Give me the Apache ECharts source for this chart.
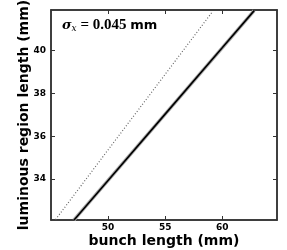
<!DOCTYPE html>
<html><head><meta charset="utf-8">
<script src="https://cdn.jsdelivr.net/npm/echarts@6/dist/echarts.min.js"></script>
<style>html,body{margin:0;padding:0;background:#fff}#c{width:287px;height:250px}</style>
</head><body><div id="c"></div>
<script>
var bunchSolid = [47.0, 50, 55, 60, 62.8];
var lumSolid = [32.07, 33.93, 37.03, 40.13, 41.87];
var bunchDotted = [45.4, 50, 55, 59.1];
var lumDotted = [32.10, 35.36, 38.89, 41.79];
var xTicks = [50, 55, 60];
var yTicks = [34, 36, 38, 40];

function pairs(xs, ys){ return xs.map(function(x,i){return [x, ys[i]];}); }
var font = 'DejaVu Sans';
var chart = echarts.init(document.getElementById('c'));
var axisLine = {show:true, onZero:false, lineStyle:{color:'#333', width:1.5}};
chart.setOption({
  animation:false,
  grid:{left:51, right:10, top:10, bottom:30, show:true, borderColor:'#333', borderWidth:1.5, outerBoundsMode:'none', containLabel:false},
  xAxis:[{
    type:'value', min:45, max:64.8, position:'bottom',
    name:'bunch length (mm)', nameLocation:'middle', nameGap:14, nameMoveOverlap:false,
    nameTextStyle:{fontFamily:font, fontWeight:'bold', fontSize:14, color:'#000', verticalAlign:'top'},
    axisLine:axisLine, splitLine:{show:false},
    axisTick:{show:true, inside:true, length:4, customValues:xTicks, lineStyle:{color:'#333'}},
    axisLabel:{show:true, customValues:xTicks, fontFamily:font, fontWeight:'bold', fontSize:9, color:'#000', margin:3}
  },{
    type:'value', min:45, max:64.8, position:'top',
    axisLine:axisLine, splitLine:{show:false},
    axisTick:{show:true, inside:true, length:4, customValues:xTicks, lineStyle:{color:'#333'}},
    axisLabel:{show:false}
  }],
  yAxis:[{
    type:'value', min:32.08, max:41.9, position:'left',
    name:'luminous region length (mm)', nameLocation:'middle', nameGap:20, nameMoveOverlap:false,
    nameTextStyle:{fontFamily:font, fontWeight:'bold', fontSize:14, color:'#000'},
    axisLine:axisLine, splitLine:{show:false},
    axisTick:{show:true, inside:true, length:4, customValues:yTicks, lineStyle:{color:'#333'}},
    axisLabel:{show:true, customValues:yTicks, fontFamily:font, fontWeight:'bold', fontSize:9, color:'#000', margin:5}
  },{
    type:'value', min:32.08, max:41.9, position:'right',
    axisLine:axisLine, splitLine:{show:false},
    axisTick:{show:true, inside:true, length:4, customValues:yTicks, lineStyle:{color:'#333'}},
    axisLabel:{show:false}
  }],
  series:[
    {type:'line', data:pairs(bunchDotted, lumDotted), showSymbol:false, clip:true,
     lineStyle:{color:'#666', width:1.2, type:[1,2]}},
    {type:'line', data:pairs(bunchSolid, lumSolid), showSymbol:false, clip:true,
     lineStyle:{color:'#aaa', width:3.5}},
    {type:'line', data:pairs(bunchSolid, lumSolid), showSymbol:false, clip:true,
     lineStyle:{color:'#000', width:1.6}}
  ],
  graphic:[{
    type:'text', left:62, top:18,
    style:{
      text:'{s|σ}{sub|x}{e| = 0.045 }{m|mm}',
      rich:{
        s:{fontFamily:'DejaVu Serif', fontStyle:'italic', fontWeight:'bold', fontSize:13, fill:'#000'},
        sub:{fontFamily:'DejaVu Serif', fontStyle:'italic', fontSize:9, fill:'#000', verticalAlign:'bottom', padding:[6,0,0,0]},
        e:{fontFamily:'Liberation Serif', fontWeight:'bold', fontSize:15, fill:'#000'},
        m:{fontFamily:font, fontWeight:'bold', fontSize:13, fill:'#000'}
      }
    }
  }]
});
</script></body></html>
